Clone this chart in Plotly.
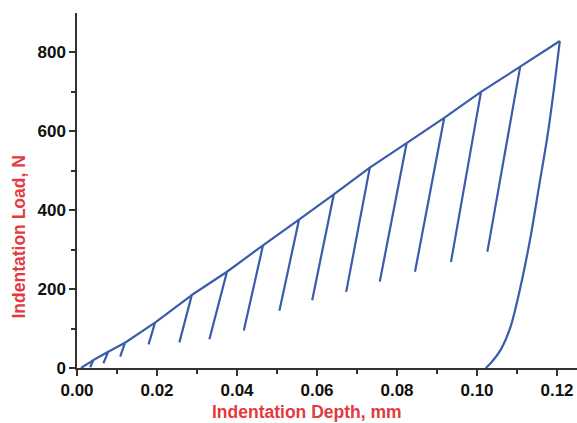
import plotly.graph_objects as go

# Partial-unloading peaks (depth mm, load N)
peak_depth = [0.0041, 0.0078, 0.0120, 0.0195, 0.0287, 0.0375, 0.0465, 0.0555,
              0.0642, 0.0732, 0.0824, 0.0918, 0.1010, 0.1108]
peak_load = [20, 41, 64, 115, 185, 244, 311, 376, 440, 508, 570, 634, 700, 764]
# End points of each partial unload
unload_depth = [0.0033, 0.0066, 0.0108, 0.0179, 0.0256, 0.0331, 0.0417, 0.0506,
                0.0588, 0.0673, 0.0757, 0.0845, 0.0935, 0.1026]
unload_load = [2, 12, 29, 60, 65, 73, 95, 145, 172, 193, 219, 244, 269, 295]
# Start of loading, maximum load and final unloading curve
start_depth, start_load = 0.0010, 0
final_depth = [0.1207, 0.1193, 0.1176, 0.1155, 0.1134, 0.1109, 0.1084, 0.1059, 0.1034, 0.1022]
final_load = [829, 713, 587, 460, 333, 207, 105, 46, 12, 0]

xs = [start_depth]
ys = [start_load]
for pd_, pl, ud, ul in zip(peak_depth, peak_load, unload_depth, unload_load):
    xs += [pd_, ud, pd_]
    ys += [pl, ul, pl]
xs.append(final_depth[0])
ys.append(final_load[0])

blue = "#3a5cab"
red = "#e23a3e"
axis_col = "#333333"

fig = go.Figure()
fig.add_trace(go.Scatter(x=xs, y=ys, mode="lines",
                         line=dict(color=blue, width=2.2), showlegend=False))
fig.add_trace(go.Scatter(x=final_depth, y=final_load, mode="lines",
                         line=dict(color=blue, width=2.2, shape="spline", smoothing=0.8),
                         showlegend=False))

tickfont = dict(family="Liberation Sans, Arial, sans-serif", size=17, color="#111111", weight="bold")
titlefont = dict(family="Liberation Sans, Arial, sans-serif", size=17.5, color=red, weight="bold")

fig.update_layout(
    width=577, height=423,
    margin=dict(l=77, r=0, t=13, b=55),
    paper_bgcolor="white", plot_bgcolor="white",
    xaxis=dict(range=[0, 0.125], tickvals=[0, 0.02, 0.04, 0.06, 0.08, 0.10, 0.12],
               ticktext=["0.00", "0.02", "0.04", "0.06", "0.08", "0.10", "0.12"],
               ticks="outside", ticklen=6, tickwidth=1.5, tickcolor=axis_col,
               showline=True, linecolor=axis_col, linewidth=1.5,
               showgrid=False, zeroline=False, tickfont=tickfont,
               minor=dict(tickvals=[0.01, 0.03, 0.05, 0.07, 0.09, 0.11],
                          ticks="outside", ticklen=4, tickwidth=1.5, tickcolor=axis_col)),
    yaxis=dict(range=[0, 900], tickvals=[0, 200, 400, 600, 800],
               ticks="outside", ticklen=6, tickwidth=1.5, tickcolor=axis_col,
               showline=True, linecolor=axis_col, linewidth=1.5,
               showgrid=False, zeroline=False, tickfont=tickfont,
               minor=dict(tickvals=[100, 300, 500, 700],
                          ticks="outside", ticklen=4, tickwidth=1.5, tickcolor=axis_col)),
    annotations=[
        dict(text="Indentation Depth, mm", xref="paper", yref="paper",
             x=(307 - 77) / 500, y=-(412 - 368) / 355, xanchor="center", yanchor="middle",
             showarrow=False, font=titlefont),
        dict(text="Indentation Load, N", xref="paper", yref="paper",
             x=-(77 - 18.5) / 500, y=(368 - 237) / 355, xanchor="center", yanchor="middle",
             textangle=-90, showarrow=False, font=titlefont),
    ],
)

fig.write_html("out.html")
